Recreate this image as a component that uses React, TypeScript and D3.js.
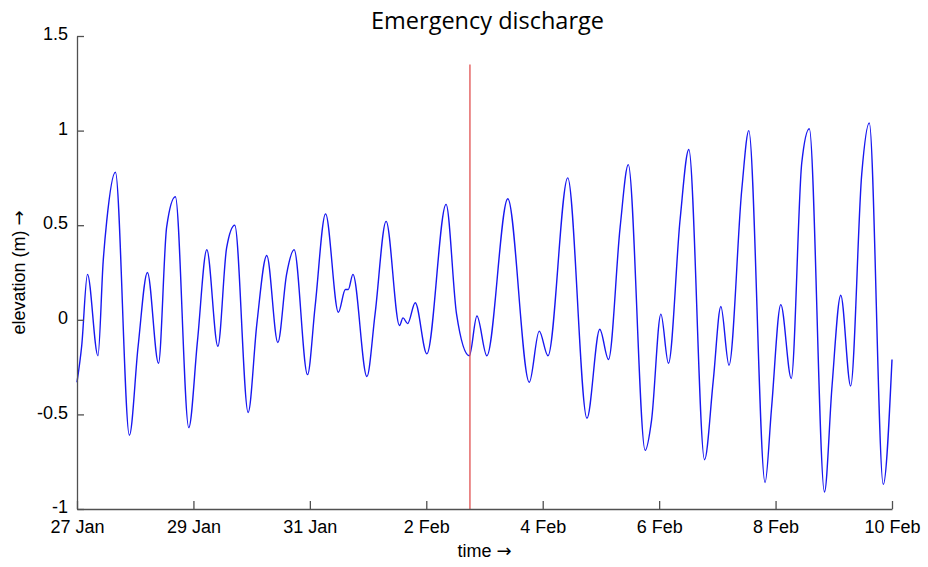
import React, { useEffect, useRef } from "react";
import * as d3 from "d3";

// time in days after 27 Jan 00:00 (peaks, troughs and slope kinks)
const tideDays = [
  0.0, 0.08, 0.18, 0.36, 0.45, 0.51, 0.66, 0.9, 1.05, 1.21, 1.4, 1.54, 1.69, 1.92,
  2.07, 2.23, 2.42, 2.57, 2.71, 2.94, 3.09, 3.26, 3.45, 3.6, 3.73, 3.96, 4.09, 4.27,
  4.49, 4.61, 4.66, 4.74, 4.98, 5.12, 5.31, 5.54, 5.6, 5.68, 5.81, 6.01, 6.34, 6.52,
  6.74, 6.87, 7.04, 7.4, 7.77, 7.94, 8.09, 8.43, 8.76, 8.98, 9.13, 9.33, 9.47, 9.76,
  9.87, 10.03, 10.16, 10.36, 10.51, 10.78, 10.93, 11.06, 11.2, 11.42, 11.54, 11.82,
  11.93, 12.09, 12.27, 12.45, 12.58, 12.84, 12.97, 13.12, 13.29, 13.48, 13.61, 13.85, 14.0,
];

const tideElevation = [
  -0.33, -0.14, 0.24, -0.19, 0.31, 0.52, 0.78, -0.61, -0.14, 0.25, -0.23, 0.49, 0.65, -0.57,
  -0.11, 0.37, -0.14, 0.38, 0.5, -0.49, -0.02, 0.34, -0.12, 0.24, 0.37, -0.29, 0.07, 0.56,
  0.04, 0.16, 0.16, 0.24, -0.3, 0.03, 0.52, -0.03, 0.01, -0.02, 0.09, -0.18, 0.61, 0.03,
  -0.19, 0.02, -0.19, 0.64, -0.33, -0.06, -0.19, 0.75, -0.52, -0.05, -0.21, 0.49, 0.82, -0.69,
  -0.53, 0.03, -0.23, 0.53, 0.9, -0.74, -0.32, 0.07, -0.24, 0.69, 1.0, -0.86,
  -0.47, 0.08, -0.31, 0.83, 1.01, -0.91, -0.35, 0.13, -0.35, 0.77, 1.04, -0.87, -0.21,
];

// emergency discharge moment (days after 27 Jan) and top of the marker line (m)
const dischargeDay = 6.75;
const dischargeTop = 1.35;

const xTickDays = [0, 2, 4, 6, 8, 10, 12, 14];
const xTickLabels = ["27 Jan", "29 Jan", "31 Jan", "2 Feb", "4 Feb", "6 Feb", "8 Feb", "10 Feb"];
const yTickValues = [-1, -0.5, 0, 0.5, 1, 1.5];
const yTickLabels = ["-1", "-0.5", "0", "0.5", "1", "1.5"];

const startMs = Date.UTC(2014, 0, 27);
const dayToDate = (d: number) => new Date(startMs + d * 864e5);

export default function App() {
  const svgRef = useRef<SVGSVGElement>(null);
  const width = 928;
  const height = 567;

  useEffect(() => {
    const svg = d3.select(svgRef.current);
    svg.selectAll("*").remove();

    const margin = { top: 36, right: 36, bottom: 58, left: 77 };
    const x = d3
      .scaleUtc()
      .domain([dayToDate(0), dayToDate(14)])
      .range([margin.left, width - margin.right]);
    const y = d3
      .scaleLinear()
      .domain([-1, 1.5])
      .range([height - margin.bottom, margin.top]);

    const axisFont = "'Liberation Sans', Arial, sans-serif";
    const axisColor = "#505050";

    // tide curve
    const points = tideDays.map((d, i) => ({ t: dayToDate(d), v: tideElevation[i] }));
    const line = d3
      .line<{ t: Date; v: number }>()
      .x((d) => x(d.t))
      .y((d) => y(d.v))
      .curve(d3.curveMonotoneX);

    svg
      .append("path")
      .datum(points)
      .attr("fill", "none")
      .attr("stroke", "#1818f0")
      .attr("stroke-width", 1.4)
      .attr("d", line);

    // discharge marker
    svg
      .append("line")
      .attr("x1", x(dayToDate(dischargeDay)))
      .attr("x2", x(dayToDate(dischargeDay)))
      .attr("y1", y(-1))
      .attr("y2", y(dischargeTop))
      .attr("stroke", "#e05050")
      .attr("stroke-width", 1.3);

    // x axis
    const xAxis = d3
      .axisBottom(x)
      .tickValues(xTickDays.map(dayToDate))
      .tickFormat((_d, i) => xTickLabels[i])
      .tickSizeInner(-8)
      .tickSizeOuter(0)
      .tickPadding(11);

    const gx = svg
      .append("g")
      .attr("transform", `translate(0,${height - margin.bottom})`)
      .call(xAxis);
    gx.select(".domain").attr("stroke", axisColor).attr("stroke-width", 1.3);
    gx.selectAll(".tick line").attr("stroke", axisColor).attr("stroke-width", 1.3);
    gx.selectAll("text")
      .attr("font-family", axisFont)
      .attr("font-size", 18)
      .attr("fill", "#000");

    // y axis
    const yAxis = d3
      .axisLeft(y)
      .tickValues(yTickValues)
      .tickFormat((_d, i) => yTickLabels[i])
      .tickSizeInner(-7)
      .tickSizeOuter(0)
      .tickPadding(9);

    const gy = svg
      .append("g")
      .attr("transform", `translate(${margin.left},0)`)
      .call(yAxis);
    gy.select(".domain").attr("stroke", axisColor).attr("stroke-width", 1.3);
    gy.selectAll(".tick line").attr("stroke", axisColor).attr("stroke-width", 1.3);
    gy.selectAll("text")
      .attr("font-family", axisFont)
      .attr("font-size", 18)
      .attr("dy", "0.2em")
      .attr("fill", "#000");

    const cx = (margin.left + width - margin.right) / 2;
    const cy = (margin.top + height - margin.bottom) / 2;

    // title
    svg
      .append("text")
      .attr("x", cx + 3)
      .attr("y", 29)
      .attr("text-anchor", "middle")
      .attr("font-family", "'Open Sans', 'Noto Sans', sans-serif")
      .attr("font-size", 23.5)
      .attr("fill", "#000")
      .text("Emergency discharge");

    // axis titles
    const xLabel = svg
      .append("text")
      .attr("x", cx)
      .attr("y", 557)
      .attr("text-anchor", "middle")
      .attr("font-family", axisFont)
      .attr("font-size", 18)
      .attr("fill", "#000");
    xLabel.append("tspan").text("time ");
    xLabel.append("tspan").attr("font-family", "'DejaVu Sans', sans-serif").text("\u2192");

    const yLabel = svg
      .append("text")
      .attr("transform", `translate(25,${cy}) rotate(-90)`)
      .attr("text-anchor", "middle")
      .attr("font-family", axisFont)
      .attr("font-size", 18)
      .attr("fill", "#000");
    yLabel.append("tspan").text("elevation (m) ");
    yLabel.append("tspan").attr("font-family", "'DejaVu Sans', sans-serif").text("\u2192");
  }, []);

  return (
    <>
      <style>{`body{margin:0;background:#fff}`}</style>
      <svg ref={svgRef} width={width} height={height} style={{ display: "block" }} />
    </>
  );
}
